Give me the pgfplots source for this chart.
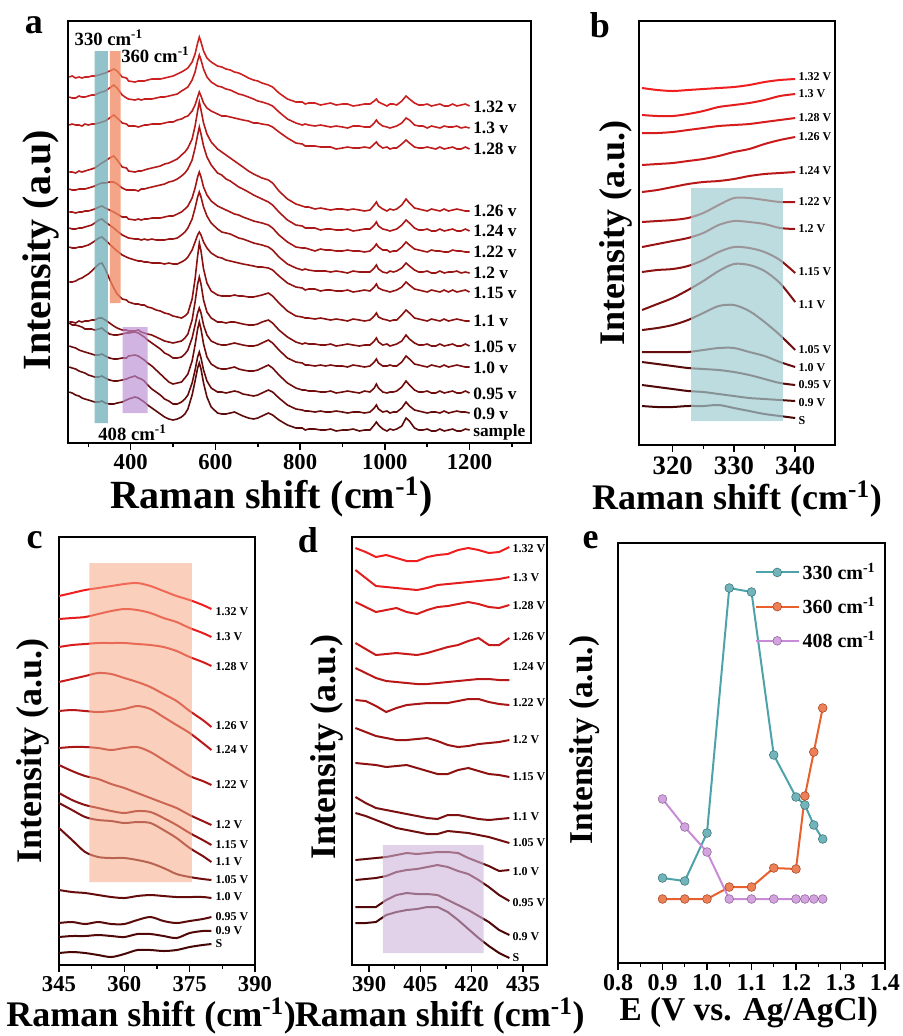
\documentclass[border=0pt]{standalone}
\usepackage{pgfplots}
\pgfplotsset{compat=1.18}
\usepackage{pgfplotstable}
\usepackage{fontspec}
\setmainfont{Liberation Serif}

% panel a colours
\definecolor{aa1}{RGB}{205,32,32}\definecolor{aa2}{RGB}{198,30,30}\definecolor{aa3}{RGB}{190,28,28}
\definecolor{aa4}{RGB}{180,26,26}\definecolor{aa5}{RGB}{172,24,24}\definecolor{aa6}{RGB}{164,22,22}
\definecolor{aa7}{RGB}{155,20,20}\definecolor{aa8}{RGB}{147,18,18}\definecolor{aa9}{RGB}{139,16,16}
\definecolor{aa10}{RGB}{130,15,15}\definecolor{aa11}{RGB}{121,14,14}\definecolor{aa12}{RGB}{112,12,12}
\definecolor{aa13}{RGB}{102,10,10}\definecolor{aa14}{RGB}{92,10,10}
% panels b-d colours
\definecolor{cb1}{RGB}{240,30,30}\definecolor{cb2}{RGB}{228,30,30}\definecolor{cb3}{RGB}{215,28,28}
\definecolor{cb4}{RGB}{200,26,26}\definecolor{cb5}{RGB}{185,24,24}\definecolor{cb6}{RGB}{170,22,22}
\definecolor{cb7}{RGB}{155,20,20}\definecolor{cb8}{RGB}{140,18,18}\definecolor{cb9}{RGB}{125,16,16}
\definecolor{cb10}{RGB}{112,14,14}\definecolor{cb11}{RGB}{100,12,12}\definecolor{cb12}{RGB}{90,10,10}
\definecolor{cb13}{RGB}{80,8,8}\definecolor{cb14}{RGB}{70,6,6}
\definecolor{bandcyan}{RGB}{110,175,185}
\definecolor{bandorange}{RGB}{240,135,95}
\definecolor{bandpurple}{RGB}{185,140,210}
\definecolor{lcyan}{RGB}{160,205,210}
\definecolor{lorange}{RGB}{245,170,135}
\definecolor{lpurple}{RGB}{205,180,220}
\definecolor{teal330}{RGB}{78,162,170}
\definecolor{orange360}{RGB}{232,96,44}
\definecolor{purple408}{RGB}{200,140,215}

% Panel a: offsets above each curve's right-end baseline (pixel units)
\pgfplotstableread{
x v132 v130 v128 v126 v124 v122 v120 v115 v110 v105 v100 v095 v090 vs
255 29 31 24 39 42 40 45 45 39 24 44 47 46 39
262 30 30 25 39 41 40 44 44 39 24 42 46 45 38
270 28 30 24 38 41 39 44 44 40 23 42 45 44 36
278 29 32 24 40 42 40 45 45 42 25 41 43 42 35
285 28 31 23 39 42 40 45 45 43 24 40 42 41 33
292 29 31 25 40 42 41 46 46 45 25 38 41 40 32
300 29 32 24 41 43 41 47 47 47 25 38 40 38 31
308 30 33 25 42 44 42 48 49 50 26 38 39 37 30
315 30 33 25 43 45 43 50 51 53 26 37 38 36 29
325 31 35 26 46 47 45 53 54 57 28 38 38 36 29
332 32 36 27 48 48 46 54 55 58 28 39 39 37 30
340 33 37 28 50 48 44 51 52 52 26 36 37 35 28
350 35 40 31 53 49 42 48 48 42 23 33 35 33 27
360 37 43 34 55 49 40 45 44 33 20 32 34 32 27
368 35 40 31 51 47 38 42 41 27 18 32 34 32 28
380 29 33 26 44 43 35 38 37 22 16 33 35 33 29
390 28 30 25 43 41 35 36 35 21 16 34 35 34 31
395 25 29 23 40 41 33 35 34 19 15 34 37 35 32
410 24 28 23 39 41 32 34 32 17 15 35 38 37 34
418 25 29 22 40 40 33 34 31 17 16 34 37 35 33
425 25 28 23 40 42 32 33 31 16 14 32 35 34 31
432 25 29 24 41 42 33 34 30 16 13 30 33 32 29
440 26 29 24 42 43 33 33 30 14 12 27 30 28 26
450 27 29 25 43 44 34 34 29 13 11 24 27 24 23
460 27 30 25 44 45 34 33 29 11 9 21 23 21 20
470 27 31 25 45 46 34 33 29 10 7 18 19 18 17
480 28 31 26 47 47 35 33 28 8 5 14 15 14 14
490 29 32 27 48 49 36 34 29 7 4 12 11 12 12
500 30 33 27 50 50 36 34 28 5 3 9 9 9 11
510 32 34 29 52 52 38 35 28 4 4 9 10 9 12
520 34 37 30 56 55 40 38 30 3 5 10 11 11 14
528 36 39 32 59 58 43 41 32 5 8 13 15 14 17
535 38 41 33 63 62 46 45 35 8 12 17 19 18 22
545 44 48 38 72 71 54 54 42 22 26 29 32 30 36
552 52 56 44 85 83 64 65 50 42 44 42 48 43 50
558 63 67 52 100 96 75 76 57 65 62 54 64 56 63
562 69 73 57 109 104 80 81 60 78 69 59 71 61 68
566 64 68 53 101 97 75 76 57 70 62 54 64 55 62
572 55 59 46 88 85 65 66 50 52 46 42 49 43 48
580 48 51 41 77 74 57 57 44 38 34 32 36 32 34
590 44 46 38 69 66 51 50 39 30 28 26 29 25 24
605 40 42 35 62 58 46 44 35 26 24 23 25 21 18
615 39 41 33 59 56 44 41 34 25 24 22 24 21 17
625 37 39 33 56 52 42 40 32 25 23 22 24 20 17
635 36 38 32 53 50 40 39 31 25 24 23 25 21 18
645 34 36 31 50 47 38 37 30 26 24 24 26 22 19
655 33 34 30 47 44 37 35 29 25 23 23 24 21 17
665 31 33 29 44 42 35 34 28 25 22 22 23 19 15
678 28 31 28 40 39 33 32 27 24 21 21 22 18 13
690 26 29 26 37 36 31 30 26 24 21 21 22 17 12
700 25 27 26 35 34 30 29 25 25 22 22 23 18 13
710 23 26 25 33 32 29 28 25 26 24 24 25 20 15
725 21 24 24 31 29 27 26 24 28 26 27 28 23 18
735 19 22 22 28 26 24 23 22 25 23 24 25 21 16
750 13 16 17 20 19 17 16 16 18 16 17 18 15 11
770 7 9 11 12 11 10 9 9 10 9 9 10 8 6
790 4 5 6 7 6 5 5 5 5 4 5 5 4 3
805 4 3 5 5 5 4 3 4 4 2 4 3 3 3
812 2 4 3 4 3 4 4 2 3 3 2 3 2 1
820 3 3 3 4 3 3 3 3 3 2 2 2 2 2
835 3 2 3 2 3 1 2 3 2 2 1 2 1 2
848 1 3 2 3 1 3 2 1 3 1 2 1 2 1
860 2 2 2 2 2 2 2 2 2 1 1 1 1 1
872 3 1 2 1 2 2 1 2 1 2 2 2 1 2
885 1 2 0 2 1 1 2 1 2 0 1 0 2 0
900 2 1 1 2 1 1 1 1 1 1 1 1 1 1
912 2 0 2 1 2 2 0 2 0 2 0 2 0 1
925 0 2 1 2 0 1 2 0 2 1 2 1 1 2
940 1 2 1 1 1 1 1 1 1 0 1 0 1 0
952 2 1 2 0 2 0 1 2 0 1 0 2 0 1
965 2 1 1 1 2 1 1 1 1 1 1 1 1 1
975 5 5 5 6 6 5 5 5 5 5 5 5 5 6
980 7 8 7 9 9 8 8 8 8 8 8 9 8 9
985 4 5 4 5 5 5 4 4 4 4 4 5 4 6
995 2 2 1 2 2 2 1 2 2 1 1 1 1 2
1005 0 1 2 0 1 2 0 1 1 2 1 0 2 0
1012 2 0 0 2 0 0 2 0 0 0 2 1 0 2
1020 2 1 1 1 1 1 1 1 1 1 1 1 1 1
1028 1 2 1 2 2 1 2 2 1 2 1 2 1 2
1040 5 5 5 6 6 5 5 5 6 5 5 6 5 5
1050 10 10 9 12 11 10 10 10 11 11 11 12 11 13
1058 7 8 6 8 8 7 7 7 8 7 8 8 7 10
1070 3 3 2 3 3 3 3 3 3 3 3 3 3 3
1080 1 2 1 2 1 2 1 2 2 1 2 1 2 1
1090 1 2 1 1 1 1 1 1 1 1 1 1 1 1
1100 2 0 2 0 2 0 2 0 0 2 0 2 0 2
1110 0 2 1 2 0 2 0 2 2 0 2 0 1 0
1120 1 1 0 1 0 1 0 1 1 0 1 0 1 0
1130 2 0 2 0 2 1 2 0 0 2 0 2 0 2
1140 0 2 0 2 0 0 0 2 2 0 2 0 2 0
1150 0 1 1 0 1 0 1 0 0 1 0 1 0 1
1160 2 1 2 1 2 2 1 2 1 2 1 2 1 2
1170 0 2 0 2 0 1 2 0 2 0 2 0 2 0
1180 1 0 0 1 0 1 0 1 1 0 1 0 1 0
1190 2 1 2 0 2 0 1 2 0 2 0 2 1 2
1200 0 0 0 0 0 0 0 0 0 0 0 0 0 1
}\tabA

% Panel b (pixel rows)
\pgfplotstableread{
x v132 v130 v128 v126 v124 v122 v120 v115 v110 v105 v100 v095 v090 vs
315 88 115 133 165 192 222 247 272 310 330 352 362 385 406
317.5 90 116 133 164 190 221 244 270 304 328 352 364 387 407
320 91 116 132 163 187 220 241 269 298 325 352 366 389 407
322.5 90 114 130 161 184 218 238 266 290 320 352 368 391 406
325 89 111 128 159 182 213 233 260 281 313 350 369 392 406
327.5 88 107 126 156 181 205 225 252 271 306 348 370 394 405
330 87 105 125 152 179 198 221 247 264 305 348 372 396 408
332.5 85 103 124 149 176 198 222 248 265 311 352 375 398 411
335 82 100 122 144 174 200 224 252 271 322 356 379 399 414
337.5 80 96 120 140 173 202 228 260 283 335 362 383 400 416
340 79 94 118 137 172 202 229 273 302 350 367 385 401 418
}\tabB

% Panel c (pixel rows)
\pgfplotstableread{
x v132 v130 v128 v126 v124 v122 v120 v115 v110 v105 v100 v095 v090 vs
345 596 619 647 682 711 748 765 793 803 828 890 923 937 953
348 593 618 645 679 710 747 771 800 810 840 892 922 936 952
351 590 617 644 676 711 747 776 805 817 852 893 924 936 953
354 588 614 643 673 712 748 779 808 820 857 895 922 935 955
357 586 611 643 674 711 750 784 811 821 858 897 924 936 957
360 584 609 643 678 709 748 788 813 823 858 898 924 937 954
363 583 610 644 682 706 747 793 811 822 860 896 920 934 950
366 586 613 645 687 709 752 798 812 823 863 895 917 934 950
369 591 618 647 694 717 760 803 818 830 868 896 921 936 951
372 596 622 651 701 725 768 808 825 838 874 897 923 938 950
375 600 628 657 711 733 776 815 833 848 877 897 921 933 947
378 605 633 662 720 743 781 821 840 856 879 897 919 931 945
380 609 637 666 727 750 785 825 845 862 880 898 917 931 944
}\tabC

% Panel d (pixel rows)
\pgfplotstableread{
x v132 v130 v128 v126 v124 v122 v120 v115 v110 v105 v100 v095 v090 vs
386 548 570 602 643 668 700 728 763 797 813 860 880 907 923
389 552 578 607 649 673 701 732 764 803 816 859 879 907 923
392 557 586 612 655 678 706 736 765 808 820 858 878 907 922
395 555 587 610 654 681 712 738 767 810 824 857 876 900 915
398 558 588 608 653 682 708 740 766 812 828 855 872 895 912
401 561 589 612 654 683 705 740 765 814 830 853 870 893 910
404 561 590 614 655 684 704 739 768 816 832 854 869 894 909
407 557 588 610 653 684 703 738 771 818 834 853 867 894 907
410 555 585 607 650 683 703 741 774 819 834 852 865 895 907
413 554 584 606 647 682 703 745 774 815 831 852 867 900 912
416 550 583 604 645 681 701 747 770 815 832 853 871 905 920
419 548 582 602 641 680 699 746 768 817 833 858 874 910 929
422 550 581 604 638 679 699 744 771 819 835 862 880 916 938
425 553 580 607 645 679 702 743 774 820 837 866 887 922 946
428 552 579 608 645 680 704 742 775 819 840 871 895 930 953
431 547 577 605 638 680 705 740 777 818 843 870 901 935 958
}\tabD

\pgfplotsset{
  panel/.style={scale only axis, clip=false, y dir=reverse, ytick=\empty,
    xtick pos=left, tick align=outside,
    axis line style={line width=1.5pt},
    every tick/.style={black, line width=1.1pt},
    major tick length=5pt, minor tick length=3pt,
    /pgf/number format/assume math mode=true,
    /pgf/number format/1000 sep={}},
}
\tikzset{vl/.style={anchor=west, inner sep=1pt, font=\fontsize{#1}{#1}\selectfont\bfseries}}

\begin{document}
\begin{tikzpicture}
\useasboundingbox (0,0) rectangle (677.25pt,-777pt);

% ---------------- panel a ----------------
\begin{axis}[panel, at={(51pt,-15.75pt)}, anchor=north west,
  width=347.25pt, height=316.5pt,
  xmin=252, xmax=1345, ymin=21, ymax=443,
  xtick={400,600,800,1000,1200}, minor xtick={300,500,700,900,1100,1300},
  tick label style={font=\fontsize{17}{17}\selectfont\bfseries},
  xlabel={Raman shift (cm\textsuperscript{-1})},
  ylabel={Intensity (a.u)},
  label style={font=\fontsize{30}{30}\selectfont\bfseries},
  xlabel style={at={(ticklabel cs:0.44)}, anchor=north, yshift=1pt},
  ylabel style={at={(axis description cs:-0.058,0.457)}, anchor=center},
]
\addplot[aa1, line width=1.2pt] table[x=x, y expr=106-\thisrow{v132}] {\tabA};
\addplot[aa2, line width=1.2pt] table[x=x, y expr=128-\thisrow{v130}] {\tabA};
\addplot[aa3, line width=1.2pt] table[x=x, y expr=149-\thisrow{v128}] {\tabA};
\addplot[aa4, line width=1.2pt] table[x=x, y expr=211-\thisrow{v126}] {\tabA};
\addplot[aa5, line width=1.2pt] table[x=x, y expr=231-\thisrow{v124}] {\tabA};
\addplot[aa6, line width=1.2pt] table[x=x, y expr=252-\thisrow{v122}] {\tabA};
\addplot[aa7, line width=1.2pt] table[x=x, y expr=273-\thisrow{v120}] {\tabA};
\addplot[aa8, line width=1.2pt] table[x=x, y expr=292-\thisrow{v115}] {\tabA};
\addplot[aa9, line width=1.2pt] table[x=x, y expr=321-\thisrow{v110}] {\tabA};
\addplot[aa10, line width=1.2pt] table[x=x, y expr=346-\thisrow{v105}] {\tabA};
\addplot[aa11, line width=1.2pt] table[x=x, y expr=367-\thisrow{v100}] {\tabA};
\addplot[aa12, line width=1.2pt] table[x=x, y expr=393-\thisrow{v095}] {\tabA};
\addplot[aa13, line width=1.2pt] table[x=x, y expr=413-\thisrow{v090}] {\tabA};
\addplot[aa14, line width=1.2pt] table[x=x, y expr=431-\thisrow{vs}] {\tabA};
\addplot[draw=none, fill=bandcyan, fill opacity=0.75] coordinates {(315,51) (346,51) (346,423) (315,423) (315,51)};
\addplot[draw=none, fill=bandorange, fill opacity=0.75] coordinates {(351,51) (376,51) (376,303) (351,303) (351,51)};
\addplot[draw=none, fill=bandpurple, fill opacity=0.65] coordinates {(381,327) (440,327) (440,413) (381,413) (381,327)};
\node[vl=13] at (axis cs:1205,107) {1.32 v};
\node[vl=13] at (axis cs:1205,128) {1.3 v};
\node[vl=13] at (axis cs:1205,149) {1.28 v};
\node[vl=13] at (axis cs:1205,211) {1.26 v};
\node[vl=13] at (axis cs:1205,231) {1.24 v};
\node[vl=13] at (axis cs:1205,252) {1.22 v};
\node[vl=13] at (axis cs:1205,273) {1.2 v};
\node[vl=13] at (axis cs:1205,293) {1.15 v};
\node[vl=13] at (axis cs:1205,321) {1.1 v};
\node[vl=13] at (axis cs:1205,347) {1.05 v};
\node[vl=13] at (axis cs:1205,368) {1.0 v};
\node[vl=13] at (axis cs:1205,394) {0.95 v};
\node[vl=13] at (axis cs:1205,414) {0.9 v};
\node[vl=13] at (axis cs:1205,432) {sample};
\node[vl=14] at (axis cs:264,38) {330 cm\textsuperscript{-1}};
\node[vl=14] at (axis cs:374,55) {360 cm\textsuperscript{-1}};
\node[vl=14] at (axis cs:320,433) {408 cm\textsuperscript{-1}};
\end{axis}

% ---------------- panel b ----------------
\begin{axis}[panel, at={(479.25pt,-15.75pt)}, anchor=north west,
  width=147pt, height=318pt,
  xmin=314.5, xmax=346.5, ymin=21, ymax=445,
  xtick={320,330,340}, minor x tick num=1,
  tick label style={font=\fontsize{20}{20}\selectfont\bfseries},
  xlabel={Raman shift (cm\textsuperscript{-1})},
  ylabel={Intensity (a.u.)},
  label style={font=\fontsize{27}{27}\selectfont\bfseries},
  xlabel style={at={(ticklabel cs:0.5)}, anchor=north, yshift=2pt},
  ylabel style={at={(axis description cs:-0.117,0.5)}, anchor=center},
]
\addplot[cb1, line width=1.5pt, smooth] table[x=x, y=v132] {\tabB};
\addplot[cb2, line width=1.5pt, smooth] table[x=x, y=v130] {\tabB};
\addplot[cb3, line width=1.5pt, smooth] table[x=x, y=v128] {\tabB};
\addplot[cb4, line width=1.5pt, smooth] table[x=x, y=v126] {\tabB};
\addplot[cb5, line width=1.5pt, smooth] table[x=x, y=v124] {\tabB};
\addplot[cb6, line width=1.5pt, smooth] table[x=x, y=v122] {\tabB};
\addplot[cb7, line width=1.5pt, smooth] table[x=x, y=v120] {\tabB};
\addplot[cb8, line width=1.5pt, smooth] table[x=x, y=v115] {\tabB};
\addplot[cb9, line width=1.5pt, smooth] table[x=x, y=v110] {\tabB};
\addplot[cb10, line width=1.5pt, smooth] table[x=x, y=v105] {\tabB};
\addplot[cb11, line width=1.5pt, smooth] table[x=x, y=v100] {\tabB};
\addplot[cb12, line width=1.5pt, smooth] table[x=x, y=v095] {\tabB};
\addplot[cb13, line width=1.5pt, smooth] table[x=x, y=v090] {\tabB};
\addplot[cb14, line width=1.5pt, smooth] table[x=x, y=vs] {\tabB};
\addplot[draw=none, fill=lcyan, fill opacity=0.7] coordinates {(323,188) (338,188) (338,421) (323,421) (323,188)};
\node[vl=9] at (axis cs:340.3,77) {1.32 V};
\node[vl=9] at (axis cs:340.3,94) {1.3 V};
\node[vl=9] at (axis cs:340.3,118) {1.28 V};
\node[vl=9] at (axis cs:340.3,137) {1.26 V};
\node[vl=9] at (axis cs:340.3,171) {1.24 V};
\node[vl=9] at (axis cs:340.3,202) {1.22 V};
\node[vl=9] at (axis cs:340.3,229) {1.2 V};
\node[vl=9] at (axis cs:340.3,272) {1.15 V};
\node[vl=9] at (axis cs:340.3,305) {1.1 V};
\node[vl=9] at (axis cs:340.3,350) {1.05 V};
\node[vl=9] at (axis cs:340.3,368) {1.0 V};
\node[vl=9] at (axis cs:340.3,385) {0.95 V};
\node[vl=9] at (axis cs:340.3,403) {0.9 V};
\node[vl=9] at (axis cs:340.3,421) {S};
\end{axis}

% ---------------- panel c ----------------
\begin{axis}[panel, at={(44.25pt,-402.75pt)}, anchor=north west,
  width=147pt, height=321pt,
  xmin=345, xmax=390, ymin=537, ymax=965,
  xtick={345,360,375,390}, minor x tick num=1,
  tick label style={font=\fontsize{17}{17}\selectfont\bfseries},
  xlabel={Raman shift (cm\textsuperscript{-1})},
  ylabel={Intensity (a.u.)},
  label style={font=\fontsize{27}{27}\selectfont\bfseries},
  xlabel style={at={(ticklabel cs:0.47)}, anchor=north, yshift=2pt},
  ylabel style={at={(axis description cs:-0.133,0.5)}, anchor=center},
]
\addplot[cb1, line width=1.5pt, smooth] table[x=x, y=v132] {\tabC};
\addplot[cb2, line width=1.5pt, smooth] table[x=x, y=v130] {\tabC};
\addplot[cb3, line width=1.5pt, smooth] table[x=x, y=v128] {\tabC};
\addplot[cb4, line width=1.5pt, smooth] table[x=x, y=v126] {\tabC};
\addplot[cb5, line width=1.5pt, smooth] table[x=x, y=v124] {\tabC};
\addplot[cb6, line width=1.5pt, smooth] table[x=x, y=v122] {\tabC};
\addplot[cb7, line width=1.5pt, smooth] table[x=x, y=v120] {\tabC};
\addplot[cb8, line width=1.5pt, smooth] table[x=x, y=v115] {\tabC};
\addplot[cb9, line width=1.5pt, smooth] table[x=x, y=v110] {\tabC};
\addplot[cb10, line width=1.5pt, smooth] table[x=x, y=v105] {\tabC};
\addplot[cb11, line width=1.5pt, smooth] table[x=x, y=v100] {\tabC};
\addplot[cb12, line width=1.5pt, smooth] table[x=x, y=v095] {\tabC};
\addplot[cb13, line width=1.5pt, smooth] table[x=x, y=v090] {\tabC};
\addplot[cb14, line width=1.5pt, smooth] table[x=x, y=vs] {\tabC};
\addplot[draw=none, fill=lorange, fill opacity=0.55] coordinates {(352,563) (375.5,563) (375.5,882) (352,882) (352,563)};
\node[vl=9] at (axis cs:380.6,612) {1.32 V};
\node[vl=9] at (axis cs:380.6,637) {1.3 V};
\node[vl=9] at (axis cs:380.6,667) {1.28 V};
\node[vl=9] at (axis cs:380.6,726) {1.26 V};
\node[vl=9] at (axis cs:380.6,750) {1.24 V};
\node[vl=9] at (axis cs:380.6,785) {1.22 V};
\node[vl=9] at (axis cs:380.6,825) {1.2 V};
\node[vl=9] at (axis cs:380.6,845) {1.15 V};
\node[vl=9] at (axis cs:380.6,862) {1.1 V};
\node[vl=9] at (axis cs:380.6,880) {1.05 V};
\node[vl=9] at (axis cs:380.6,897) {1.0 V};
\node[vl=9] at (axis cs:380.6,917) {0.95 V};
\node[vl=9] at (axis cs:380.6,931) {0.9 V};
\node[vl=9] at (axis cs:380.6,944) {S};
\end{axis}

% ---------------- panel d ----------------
\begin{axis}[panel, at={(264pt,-402.75pt)}, anchor=north west,
  width=146.25pt, height=321pt,
  xmin=385, xmax=442, ymin=537, ymax=965,
  xtick={390,405,420,435}, minor x tick num=1,
  tick label style={font=\fontsize{17}{17}\selectfont\bfseries},
  xlabel={Raman shift (cm\textsuperscript{-1})},
  ylabel={Intensity (a.u.)},
  label style={font=\fontsize{27}{27}\selectfont\bfseries},
  xlabel style={at={(ticklabel cs:0.45)}, anchor=north, yshift=2pt},
  ylabel style={at={(axis description cs:-0.128,0.51)}, anchor=center},
]
\addplot[cb1, line width=1.5pt] table[x=x, y=v132] {\tabD};
\addplot[cb2, line width=1.5pt] table[x=x, y=v130] {\tabD};
\addplot[cb3, line width=1.5pt] table[x=x, y=v128] {\tabD};
\addplot[cb4, line width=1.5pt] table[x=x, y=v126] {\tabD};
\addplot[cb5, line width=1.5pt] table[x=x, y=v124] {\tabD};
\addplot[cb6, line width=1.5pt] table[x=x, y=v122] {\tabD};
\addplot[cb7, line width=1.5pt] table[x=x, y=v120] {\tabD};
\addplot[cb8, line width=1.5pt] table[x=x, y=v115] {\tabD};
\addplot[cb9, line width=1.5pt] table[x=x, y=v110] {\tabD};
\addplot[cb10, line width=1.5pt] table[x=x, y=v105] {\tabD};
\addplot[cb11, line width=1.5pt] table[x=x, y=v100] {\tabD};
\addplot[cb12, line width=1.5pt] table[x=x, y=v095] {\tabD};
\addplot[cb13, line width=1.5pt] table[x=x, y=v090] {\tabD};
\addplot[cb14, line width=1.5pt] table[x=x, y=vs] {\tabD};
\addplot[draw=none, fill=lpurple, fill opacity=0.6] coordinates {(394,845) (423.5,845) (423.5,953) (394,953) (394,845)};
\node[vl=9] at (axis cs:431.5,549) {1.32 V};
\node[vl=9] at (axis cs:431.5,578) {1.3 V};
\node[vl=9] at (axis cs:431.5,606) {1.28 V};
\node[vl=9] at (axis cs:431.5,637) {1.26 V};
\node[vl=9] at (axis cs:431.5,667) {1.24 V};
\node[vl=9] at (axis cs:431.5,703) {1.22 V};
\node[vl=9] at (axis cs:431.5,740) {1.2 V};
\node[vl=9] at (axis cs:431.5,777) {1.15 V};
\node[vl=9] at (axis cs:431.5,817) {1.1 V};
\node[vl=9] at (axis cs:431.5,843) {1.05 V};
\node[vl=9] at (axis cs:431.5,872) {1.0 V};
\node[vl=9] at (axis cs:431.5,903) {0.95 V};
\node[vl=9] at (axis cs:431.5,937) {0.9 V};
\node[vl=9] at (axis cs:431.5,958) {S};
\end{axis}

% ---------------- panel e ----------------
\begin{axis}[panel, at={(463.5pt,-407.25pt)}, anchor=north west,
  width=200.25pt, height=315pt,
  xmin=0.8, xmax=1.4, ymin=543, ymax=963,
  xtick={0.8,0.9,1.0,1.1,1.2,1.3,1.4}, minor x tick num=1,
  xticklabel style={/pgf/number format/.cd, fixed, fixed zerofill, precision=1},
  tick label style={font=\fontsize{18}{18}\selectfont\bfseries},
  xlabel={E (V vs. Ag/AgCl)},
  ylabel={Intensity (a.u.)},
  label style={font=\fontsize{25}{25}\selectfont\bfseries},
  xlabel style={at={(ticklabel cs:0.49)}, anchor=north, yshift=2pt},
  ylabel style={at={(axis description cs:-0.124,0.531)}, anchor=center},
  legend style={at={(0.99,0.965)}, anchor=north east, draw=none, fill=none,
    font=\fontsize{15}{15}\selectfont\bfseries, row sep=8pt},
  legend cell align=left,
  legend image code/.code={\draw[mark repeat=2,mark phase=2,#1] plot coordinates {(0cm,0cm) (0.57cm,0cm) (1.14cm,0cm)};},
]
\addplot[teal330, line width=1.5pt, mark=*, mark size=3.3pt, mark options={fill=teal330!80!white, draw=teal330!70!black, line width=0.4pt}]
  coordinates {(0.9,878) (0.95,881) (1.0,833) (1.05,588) (1.1,592) (1.15,755) (1.2,797) (1.22,805) (1.24,825) (1.26,839)};
\addlegendentry{330 cm\textsuperscript{-1}}
\addplot[orange360, line width=1.5pt, mark=*, mark size=3.3pt, mark options={fill=orange360!80!white, draw=orange360!70!black, line width=0.4pt}]
  coordinates {(0.9,899) (0.95,899) (1.0,899) (1.05,887) (1.1,887) (1.15,868) (1.2,869) (1.22,796) (1.24,752) (1.26,708)};
\addlegendentry{360 cm\textsuperscript{-1}}
\addplot[purple408, line width=1.5pt, mark=*, mark size=3.3pt, mark options={fill=purple408!80!white, draw=purple408!70!black, line width=0.4pt}]
  coordinates {(0.9,799) (0.95,827) (1.0,852) (1.05,899) (1.1,899) (1.15,899) (1.2,899) (1.22,899) (1.24,899) (1.26,899)};
\addlegendentry{408 cm\textsuperscript{-1}}
\end{axis}

% panel letters
\node[font=\fontsize{27}{27}\selectfont\bfseries] at (25.5pt,-19pt) {a};
\node[font=\fontsize{27}{27}\selectfont\bfseries] at (450pt,-19pt) {b};
\node[font=\fontsize{27}{27}\selectfont\bfseries] at (26pt,-405pt) {c};
\node[font=\fontsize{27}{27}\selectfont\bfseries] at (231pt,-405pt) {d};
\node[font=\fontsize{27}{27}\selectfont\bfseries] at (443pt,-405pt) {e};
\end{tikzpicture}
\end{document}
